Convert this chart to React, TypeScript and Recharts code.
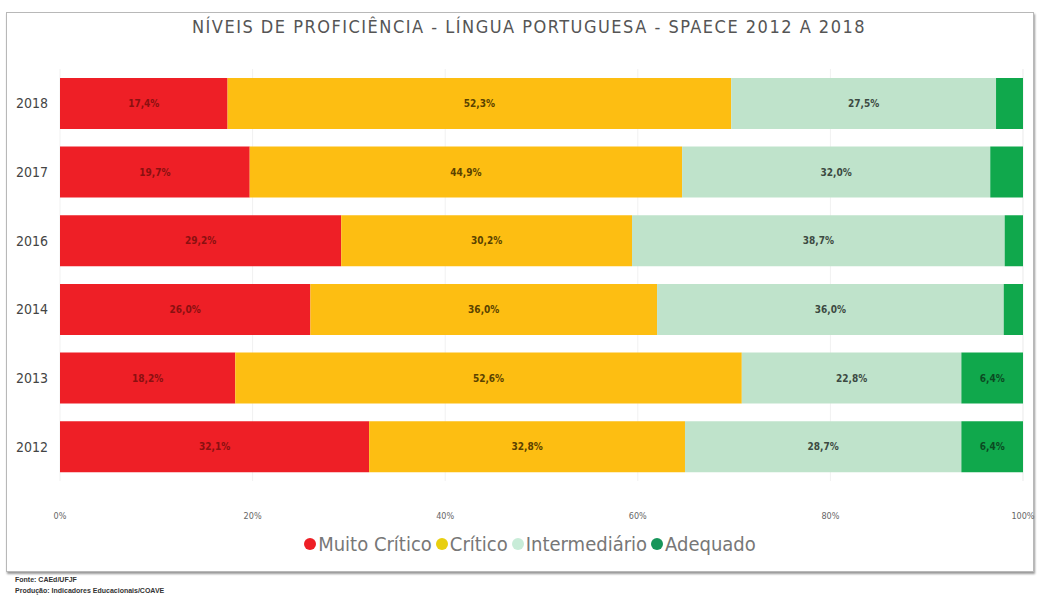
import { Bar, BarChart, CartesianGrid, LabelList, Legend, XAxis, YAxis } from 'recharts';

const years = ['2018', '2017', '2016', '2014', '2013', '2012'];
const muitoCritico = [17.4, 19.7, 29.2, 26.0, 18.2, 32.1];
const critico = [52.3, 44.9, 30.2, 36.0, 52.6, 32.8];
const intermediario = [27.5, 32.0, 38.7, 36.0, 22.8, 28.7];
const adequado = [2.8, 3.4, 1.9, 2.0, 6.4, 6.4];
const xTicks = [0, 20, 40, 60, 80, 100];

const data = years.map((year, i) => ({
  year,
  muitoCritico: muitoCritico[i],
  critico: critico[i],
  intermediario: intermediario[i],
  adequado: adequado[i],
}));

const font = '"DejaVu Sans Condensed", "Open Sans", sans-serif';

// hide labels on the thin slivers, like the source does
const pct = (v: any) => (Number(v) < 4 ? '' : `${Number(v).toFixed(1).replace('.', ',')}%`);

const series = [
  { key: 'muitoCritico', name: 'Muito Crítico', fill: '#ee1f26', label: '#8a1010', dot: '#ee1f26' },
  { key: 'critico', name: 'Crítico', fill: '#fdbe12', label: '#5a4200', dot: '#e8cf10' },
  { key: 'intermediario', name: 'Intermediário', fill: '#bfe3cb', label: '#3c4a42', dot: '#c8ecd8' },
  { key: 'adequado', name: 'Adequado', fill: '#10a84c', label: '#0b4a22', dot: '#17955a' },
];

function LegendRow() {
  return (
    <div style={{ display: 'flex', justifyContent: 'center', fontFamily: font, fontSize: 20, color: '#777' }}>
      {series.map((s) => (
        <span key={s.key} style={{ display: 'flex', alignItems: 'center', marginRight: 4 }}>
          <span
            style={{ width: 12, height: 12, borderRadius: '50%', background: s.dot, display: 'inline-block', marginRight: 2 }}
          />
          {s.name}
        </span>
      ))}
    </div>
  );
}

export default function App() {
  return (
    <div style={{ position: 'absolute', left: 0, top: 0, width: 1040, height: 599, background: '#fff', overflow: 'hidden' }}>
      <div
        style={{
          position: 'absolute',
          left: 6,
          top: 12,
          width: 1026,
          height: 558,
          border: '1px solid #b8b8b8',
          boxShadow: '1px 2px 2px #999',
        }}
      />
      <div
        style={{
          position: 'absolute',
          left: 0,
          top: 16,
          width: 1058,
          textAlign: 'center',
          fontFamily: font,
          fontSize: 18,
          letterSpacing: 1.5,
          color: '#555',
        }}
      >
        NÍVEIS DE PROFICIÊNCIA - LÍNGUA PORTUGUESA - SPAECE 2012 A 2018
      </div>
      <div style={{ position: 'absolute', left: 0, top: 0 }}>
        <BarChart
          width={1040}
          height={599}
          data={data}
          layout="vertical"
          margin={{ top: 69, right: 17, bottom: 78, left: 6 }}
          barCategoryGap="13%"
        >
          <CartesianGrid horizontal={false} stroke="#f1f1f1" />
          <XAxis
            type="number"
            domain={[0, 100]}
            ticks={xTicks}
            tickFormatter={(v) => `${v}%`}
            axisLine={false}
            tickLine={false}
            tick={{ fontSize: 9, fill: '#666', fontFamily: font }}
            tickMargin={26}
            height={40}
          />
          <YAxis
            type="category"
            dataKey="year"
            width={54}
            axisLine={false}
            tickLine={false}
            tick={{ fontSize: 14, fill: '#444', fontFamily: font }}
            tickMargin={6}
          />
          {series.map((s) => (
            <Bar key={s.key} dataKey={s.key} name={s.name} stackId="a" fill={s.fill} isAnimationActive={false}>
              <LabelList
                dataKey={s.key}
                position="center"
                formatter={pct}
                style={{ fontSize: 10, fill: s.label, fontFamily: font, fontWeight: 'bold' }}
              />
            </Bar>
          ))}
          <Legend
            verticalAlign="middle"
            align="center"
            wrapperStyle={{ top: 532, left: 12, width: 1040 }}
            content={() => <LegendRow />}
          />
        </BarChart>
      </div>
      <div style={{ position: 'absolute', left: 15, top: 574, fontFamily: '"Liberation Sans", sans-serif', fontSize: 7, fontWeight: 'bold', color: '#333', lineHeight: '11px' }}>
        Fonte: CAEd/UFJF
        <br />
        Produção: Indicadores Educacionais/COAVE
      </div>
    </div>
  );
}
